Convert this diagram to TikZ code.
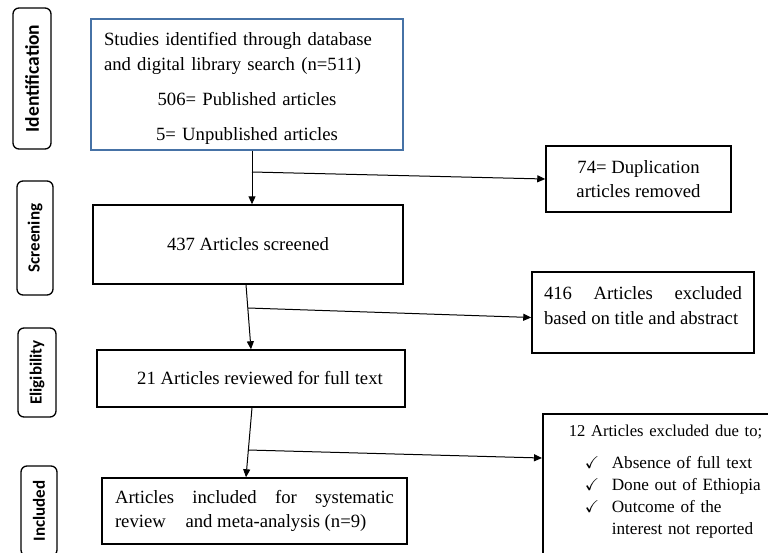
\documentclass[tikz,border=0pt]{standalone}
\usepackage{amssymb}
\usepackage{fontspec}
\setmainfont{Liberation Serif}
\newfontfamily\phasefont{Carlito}
\usepackage{tikz}
\usetikzlibrary{positioning, arrows.meta, calc}
\definecolor{idblue}{RGB}{70,114,166}
\tikzset{
    phase/.style={draw, line width=1.3pt, rounded corners=6pt, rotate=90, inner sep=0pt, font=\phasefont\bfseries\fontsize{17}{20}\selectfont},
    stage/.style={draw, line width=1.5pt, inner sep=0pt, align=center, font=\fontsize{18.7}{24.5}\selectfont},
    flow/.style={-{Triangle[length=8pt,width=7pt]}, line width=1pt},
}
\newcommand{\tick}{\makebox[27pt][l]{$\checkmark$}}

\begin{document}
\begin{tikzpicture}[x=1pt, y=-1pt]
        \useasboundingbox (0,0) rectangle (768,552);
        \clip (0,0) rectangle (768,552);
        % Fases
        \node[phase, minimum width=141pt, minimum height=38pt, font=\phasefont\bfseries\fontsize{19.5}{22}\selectfont] (pid) at (32,78.5) {Identification};
        \node[phase, minimum width=114pt, minimum height=36pt] (pscr) at (35,238)   {Screening};
        \node[phase, minimum width=89pt,  minimum height=38pt] (pel)  at (37,372.5) {Eligibility};
        \node[phase, minimum width=90pt,  minimum height=36pt] (pinc) at (39,511)   {Included};
        % Flujo principal
        \node[stage, draw=idblue, minimum width=312pt, minimum height=131pt, text width=286pt, align=left] (ids) at (247,84.5)
            {\rule{0pt}{21pt}Studies identified through database\\ and digital library search (n=511)\\[10.5pt]
             \makebox[286pt][c]{506= Published articles}\\[10.5pt]
             \makebox[286pt][c]{5= Unpublished articles}};
        \node[stage, minimum width=310pt, minimum height=79pt] (scr)  at (248,244.5) {437 Articles screened};
        \node[stage, minimum width=308pt, minimum height=57pt] (elig) at (251,378.5) {\hspace*{18pt}21 Articles reviewed for full text};
        \node[stage, minimum width=305pt, minimum height=66pt, text width=279pt, align=justify] (incl) at (254.5,511)
            {Articles included for systematic\linebreak review\hspace{15pt} and meta-analysis (n=9)};
        % Excluidos
        \node[stage, minimum width=185pt, minimum height=66pt] (dup) at (638.5,179) {74= Duplication\\ articles removed};
        \node[stage, anchor=north, minimum width=222pt, inner ysep=15pt, text width=198pt, align=justify] (exc1) at (643,271)
            {416 Articles excluded\linebreak based on title and abstract\rule[-14pt]{0pt}{14pt}};
        \node[stage, anchor=north west, minimum width=230pt, inner ysep=11pt, text width=230pt, align=left,
              font=\fontsize{17.2}{22}\selectfont] (exc2) at (542,413)
            {\hspace*{26pt}{\fontsize{16.6}{18}\selectfont 12 Articles excluded due to;}\\[10pt]
             \hspace*{42pt}\tick Absence of full text\\
             \hspace*{42pt}\tick Done out of Ethiopia\\
             \hspace*{42pt}\tick Outcome of the\\
             \hspace*{69pt}interest not reported\rule[-60pt]{0pt}{60pt}};
        % Bifurcaciones
        \coordinate (j1) at (252,172);
        \coordinate (j2) at (248,308);
        \coordinate (j3) at (248,450);
        % Flechas
        \draw[flow] ([xshift=5pt]ids.south) -- ([xshift=4pt]scr.north);
        \draw[flow] ([xshift=-2pt]scr.south) -- (elig.north);
        \draw[flow] ([xshift=1pt]elig.south) -- ([xshift=-8.5pt]incl.north);
        \draw[flow] (j1) -- (dup.west);
        \draw[flow] (j2) -- ([yshift=-5pt]exc1.west);
        \draw[flow] (j3) -- ([yshift=-45pt]exc2.north west);
    \end{tikzpicture}
\end{document}
